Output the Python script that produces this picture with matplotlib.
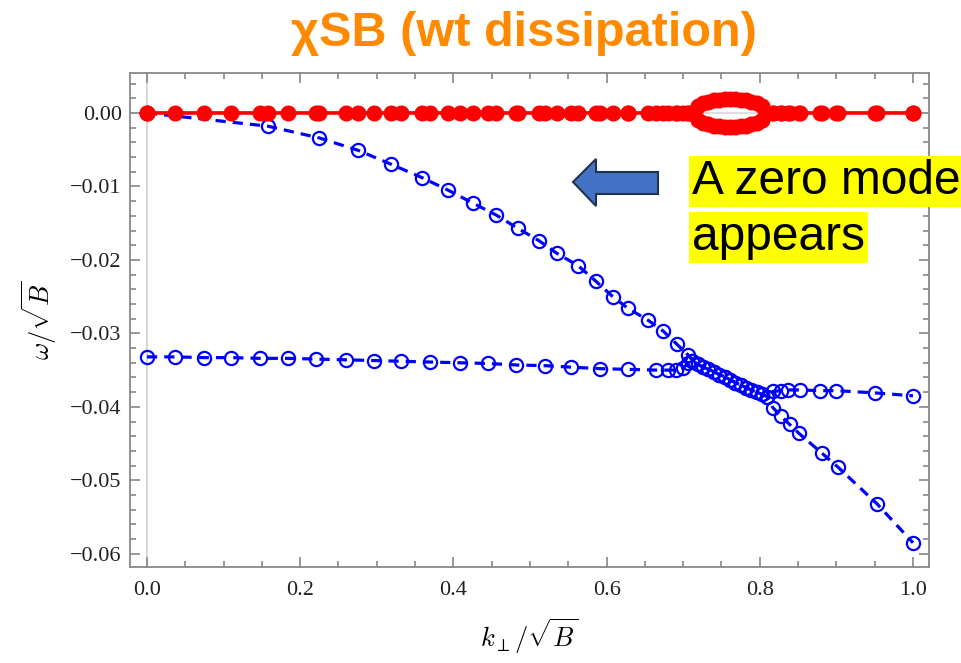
import matplotlib
matplotlib.use('Agg')
import matplotlib.pyplot as plt
import matplotlib.ticker as ticker
from matplotlib.patches import Polygon

plt.rcParams['mathtext.fontset'] = 'cm'

# mode A: starts at 0, falls off quadratically
k_a_pre = [0.0, 0.158, 0.225, 0.276, 0.319, 0.359, 0.393,
           0.426, 0.456, 0.484, 0.512, 0.535, 0.563, 0.586, 0.608, 0.628, 0.654,
           0.674, 0.692, 0.706]
w_a_pre = [0.0, -0.0018, -0.0034, -0.0051, -0.0070, -0.0088, -0.0105,
           -0.0123, -0.0139, -0.0157, -0.0174, -0.0191, -0.0208, -0.0229, -0.0250, -0.0266, -0.0282,
           -0.0297, -0.0315, -0.0329]

# mode B: nearly flat around -0.033
k_b_pre = [0.0, 0.037, 0.074, 0.110, 0.147, 0.184, 0.221, 0.260, 0.297, 0.332,
           0.369, 0.408, 0.445, 0.482, 0.520, 0.554, 0.591, 0.628, 0.665, 0.680,
           0.691, 0.700, 0.706]
w_b_pre = [-0.0332, -0.0332, -0.0333, -0.0333, -0.0334, -0.0334, -0.0335, -0.0336, -0.0337, -0.0338,
           -0.0339, -0.0340, -0.0341, -0.0343, -0.0344, -0.0346, -0.0348, -0.0349, -0.0350, -0.0350,
           -0.0350, -0.0347, -0.0341]

# between the two exceptional points: common real part, +/- imaginary part
k_band = [0.712, 0.719, 0.726, 0.733, 0.740, 0.747, 0.754, 0.761,
          0.768, 0.775, 0.782, 0.789, 0.796, 0.803, 0.810]
w_band = [-0.0337, -0.0342, -0.0346, -0.0349, -0.0352, -0.0356, -0.0359, -0.0363,
          -0.0367, -0.0370, -0.0374, -0.0377, -0.0380, -0.0383, -0.0386]
im_band = [0.0, 0.00098, 0.00133, 0.00156, 0.00172, 0.00182, 0.00188, 0.0019,
           0.00188, 0.00182, 0.00172, 0.00156, 0.00133, 0.00098, 0.0]

k_a_post = [0.817, 0.828, 0.839, 0.851, 0.881, 0.902, 0.953, 1.0]
w_a_post = [-0.0401, -0.0413, -0.0424, -0.0436, -0.0463, -0.0482, -0.0532, -0.0585]

k_b_post = [0.817, 0.828, 0.837, 0.852, 0.879, 0.900, 0.950, 1.0]
w_b_post = [-0.0379, -0.0378, -0.0377, -0.0377, -0.0378, -0.0378, -0.0381, -0.0385]

k_a = k_a_pre + k_band + k_a_post
w_a = w_a_pre + w_band + w_a_post
im_a = [0.0] * len(k_a_pre) + im_band + [0.0] * len(k_a_post)

k_b = k_b_pre + k_band + k_b_post
w_b = w_b_pre + w_band + w_b_post
im_b = [0.0] * len(k_b_pre) + [-v for v in im_band] + [0.0] * len(k_b_post)

fig = plt.figure(figsize=(9.62, 6.63), dpi=100)
ax = fig.add_axes([0.1351, 0.1448, 0.8306, 0.7451])

ax.axhline(0, color='#d8d8d8', lw=1.2, zorder=0)
ax.axvline(0, color='#d8d8d8', lw=1.5, zorder=0)

for k, w in ((k_a, w_a), (k_b, w_b)):
    ax.plot(k, w, color='#0000ff', lw=2.3, ls=(0, (3.2, 2.2)), marker='o', ms=9.5,
            mfc='none', mec='#0000ff', mew=1.6, zorder=2)

for k, im in ((k_a, im_a), (k_b, im_b)):
    ax.plot(k, im, color='#ff0000', lw=2.3, marker='o', ms=10.5, mfc='#ff0000',
            mec='#ff0000', zorder=3)

ax.set_xlim(-0.0222, 1.0209)
ax.set_ylim(-0.0618, 0.00544)

ax.xaxis.set_major_locator(ticker.MultipleLocator(0.2))
ax.xaxis.set_minor_locator(ticker.MultipleLocator(0.05))
ax.yaxis.set_major_locator(ticker.MultipleLocator(0.01))
ax.yaxis.set_minor_locator(ticker.MultipleLocator(0.002))
ax.xaxis.set_major_formatter(ticker.FormatStrFormatter('%.1f'))
ax.yaxis.set_major_formatter(ticker.FuncFormatter(
    lambda v, p: ('%.2f' % v).replace('-', '\u2212') if abs(v) > 1e-9 else '0.00'))

ax.tick_params(which='both', direction='in', top=True, right=True, color='#888888', width=1.2)
ax.tick_params(which='major', length=7)
ax.tick_params(which='minor', length=4)
ax.tick_params(axis='x', which='major', pad=10, labelsize=16)
ax.tick_params(axis='y', which='major', pad=6, labelsize=16)
for lab in ax.get_xticklabels() + ax.get_yticklabels():
    lab.set_family('Liberation Serif')
    lab.set_color('#222222')
for sp in ax.spines.values():
    sp.set_color('#888888')
    sp.set_linewidth(1.3)

ax.set_xlabel(r'$k_{\perp}/\sqrt{B}$', fontsize=19, labelpad=12)
ax.set_ylabel(r'$\omega/\sqrt{B}$', fontsize=19, labelpad=8)

fig.text(0.545, 0.950, '\u03c7SB (wt dissipation)', ha='center', va='center',
         fontsize=35, fontweight='bold', color='#ff8a00', family='Liberation Sans')

# annotation: highlighted text + block arrow
box = dict(boxstyle='square,pad=0.06', facecolor='#ffff00', edgecolor='none')
fig.text(0.7195, 0.760, 'A zero mode', ha='left', va='top', fontsize=34.5,
         family='Liberation Sans', color='black', bbox=box)
fig.text(0.7195, 0.676, 'appears', ha='left', va='top', fontsize=34.5,
         family='Liberation Sans', color='black', bbox=box)

arrow_px = [(573, 182), (596, 159), (596, 172), (658, 172), (658, 194), (596, 194), (596, 206)]
arrow = Polygon([(x / 962, 1 - y / 663) for x, y in arrow_px], closed=True,
                transform=fig.transFigure, facecolor='#4472c4', edgecolor='#1f3350', lw=1.5)
fig.patches.append(arrow)

plt.savefig('out.png', dpi=100)
